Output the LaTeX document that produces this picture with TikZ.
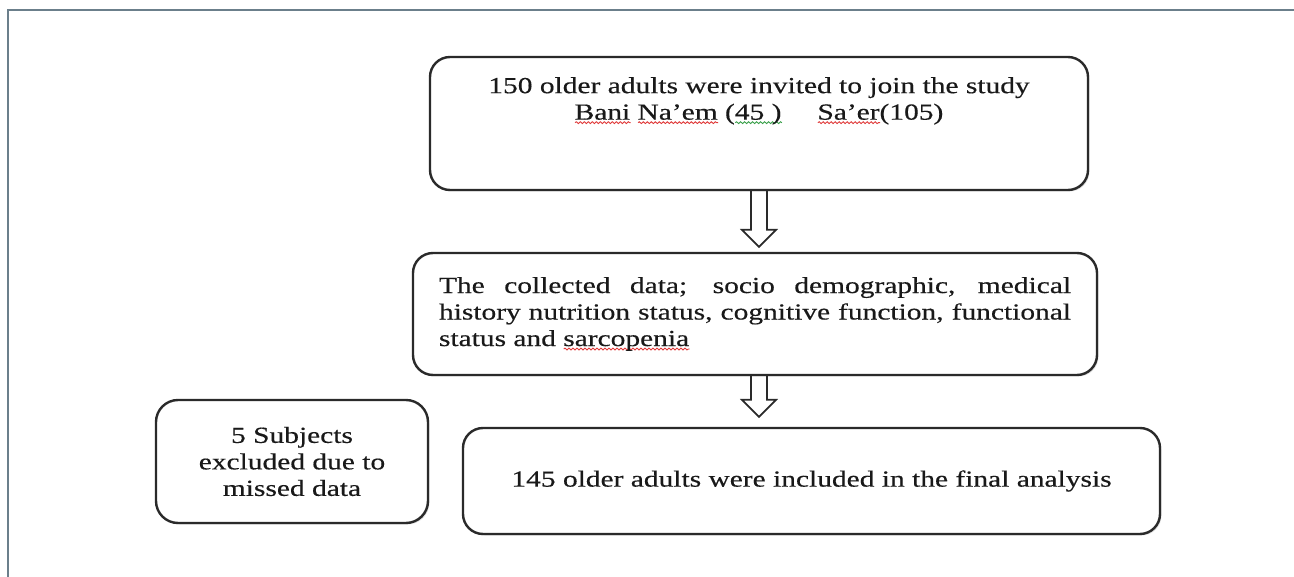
\documentclass[tikz,border=0pt]{standalone}
\usepackage{fontspec}
\setmainfont{Liberation Serif}[FakeStretch=1.28,FakeBold=0.4]
\usepackage{xcolor}
\usetikzlibrary{calc,shadows,positioning,decorations.pathmorphing}
\definecolor{framegray}{HTML}{6B7F8B}
\definecolor{boxline}{HTML}{2A2A2A}
\definecolor{spellred}{HTML}{E03A3A}
\definecolor{spellgreen}{HTML}{3AA04A}
\newcommand{\ShaftHalf}{8}
\newcommand{\HeadHalf}{17}
\newcommand{\HeadLen}{17}
\makeatletter
\tikzset{no preactions/.code={\let\tikz@preactions\pgfutil@empty}}
\makeatother
\newsavebox{\SpellBox}
\newcommand{\SpellMark}[2]{\sbox{\SpellBox}{#2}%
  \rlap{\tikz[baseline=0pt]\draw[no preactions, sharp corners, #1, line width=0.9pt, fill=none, decorate,
    decoration={snake, amplitude=0.9pt, segment length=4pt}] (0pt,-3pt) -- (\the\wd\SpellBox,-3pt);}%
  \usebox{\SpellBox}}
\newcommand{\HollowArrow}[2]{%
  \draw[hollow] ($(#1)+(-\ShaftHalf,0)$) -- ($(#2)+(-\ShaftHalf,-\HeadLen)$)
    -- ($(#2)+(-\HeadHalf,-\HeadLen)$) -- (#2) -- ($(#2)+(\HeadHalf,-\HeadLen)$)
    -- ($(#2)+(\ShaftHalf,-\HeadLen)$) -- ($(#1)+(\ShaftHalf,0)$);}

\begin{document}
\begin{tikzpicture}[x=1pt,y=-1pt,
  flowbox/.style={draw=boxline, line width=2.4pt, rounded corners=20pt, fill=white,
    drop shadow={shadow xshift=1.5pt, shadow yshift=-1.5pt, opacity=0.25}},
  flowtext/.style={text=black!90, font=\fontsize{23}{26.5}\selectfont},
  hollow/.style={draw=boxline, line width=1.8pt, line join=miter}]
\useasboundingbox (0,0) rectangle (1294,577);
\draw[framegray, line width=2pt] (8,577) -- (8,10) -- (1294,10);% page frame

\node[flowbox, minimum width=658pt, minimum height=133pt] (invited) at (759,123.5) {};
\node[flowtext, align=center, anchor=north, inner sep=0pt] (invitedtext) at (759,77)
  {150 older adults were invited to join the study\\
   \SpellMark{spellred}{Bani} \SpellMark{spellred}{Na’em} (\SpellMark{spellgreen}{45 )}\hspace{36pt}\SpellMark{spellred}{Sa’er}(105)};
\node[flowbox, flowtext, text width=632pt, align=justify, inner xsep=26pt,
  minimum height=122pt] (collected) at (755,314)
  {The collected data; socio demographic, medical\linebreak
   history nutrition status, cognitive function, functional\linebreak
   status and \SpellMark{spellred}{sarcopenia}};
\node[flowbox, flowtext, minimum width=697pt, minimum height=106pt] (final) at (811.5,481)
  {145 older adults were included in the final analysis};
\node[flowbox, flowtext, align=center, minimum width=272pt, minimum height=123pt,
  rounded corners=22pt] (excluded) at (292,461.5)
  {5 Subjects\\excluded due to\\missed data};

\coordinate (tipA) at ($(collected.north -| invited.south)+(0,-5)$);
\coordinate (startB) at (collected.south -| invited.south);
\coordinate (tipB) at ($(final.north -| invited.south)+(0,-10)$);
\HollowArrow{invited.south}{tipA}
\HollowArrow{startB}{tipB}
\end{tikzpicture}
\end{document}
